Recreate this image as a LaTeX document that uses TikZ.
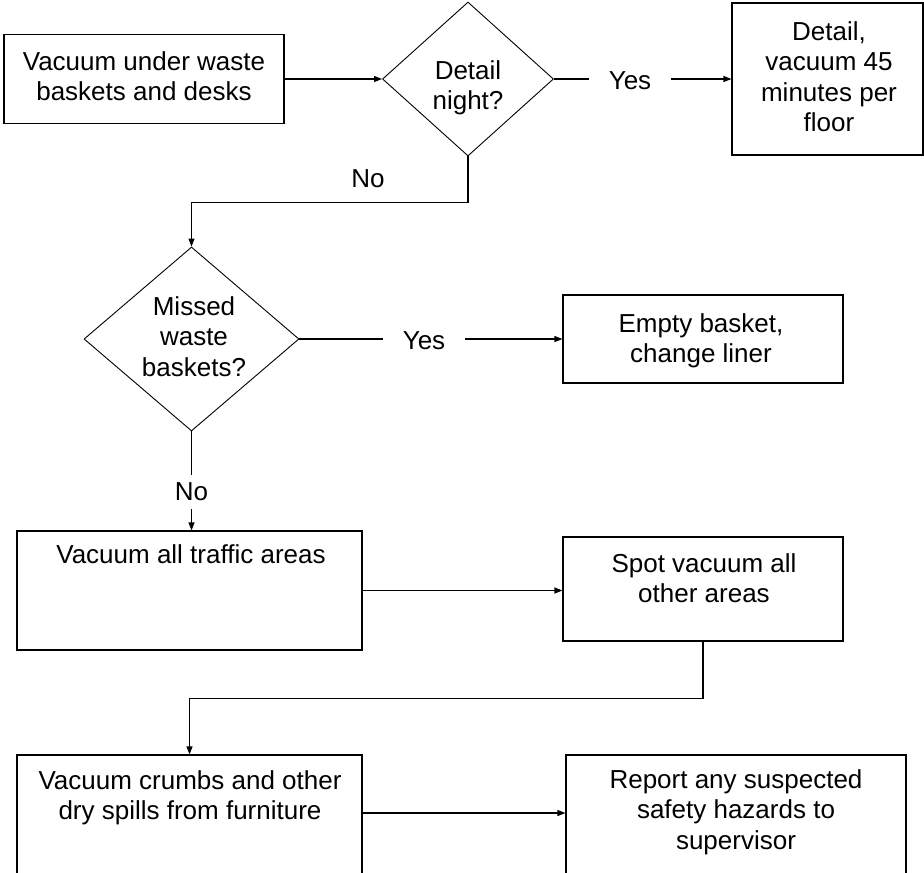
\documentclass[tikz,border=0pt]{standalone}
\usepackage{fontspec}
\setmainfont{Liberation Sans}
\usetikzlibrary{shapes.geometric,arrows.meta}
\tikzset{
  procbox/.style={draw=black, line width=1.1pt, rectangle, inner sep=0pt},
  decbox/.style={draw=black, line width=0.9pt, diamond, inner sep=0pt},
  lbl/.style={inner sep=0pt, align=center, font=\fontsize{26}{30.5}\selectfont},
  gaplbl/.style={lbl, fill=white, inner xsep=20pt, inner ysep=4pt},
  arr/.style={line width=1.1pt, -{Triangle[length=8pt,width=6pt]}},
  conn/.style={line width=1.1pt}
}
\begin{document}
\begin{tikzpicture}[x=1pt, y=-1pt]
\useasboundingbox (0,0) rectangle (924,873);
\clip (0,0) rectangle (924,873);

% process boxes
\node[procbox, minimum width=280pt, minimum height=89pt]  (b1) at (144,79) {};
\node[procbox, minimum width=191pt, minimum height=152pt] (b2) at (827.5,79) {};
\node[procbox, minimum width=280pt, minimum height=88pt]  (b3) at (703,339) {};
\node[procbox, minimum width=345pt, minimum height=119pt] (b4) at (189.5,590.5) {};
\node[procbox, minimum width=280pt, minimum height=104pt] (b5) at (703,589) {};
\node[procbox, minimum width=340pt, minimum height=145pt] (b6) at (736,827.5) {};
\node[procbox, minimum width=345pt, minimum height=145pt] (b7) at (189.5,827.5) {};

% decisions
\node[decbox, minimum width=171pt, minimum height=154pt] (d1) at (468,79) {};
\node[decbox, minimum width=215pt, minimum height=184pt] (d2) at (191.5,339) {};

% box texts
\node[lbl, anchor=north] (t1) at (144,51) {Vacuum under waste\\baskets and desks};
\node[lbl, anchor=north] (t2) at (829,21) {Detail,\\vacuum 45\\minutes per\\floor};
\node[lbl, anchor=north] (t3) at (701,313) {Empty basket,\\change liner};
\node[lbl, anchor=north] (t4) at (191,544) {Vacuum all traffic areas};
\node[lbl, anchor=north] (t5) at (704,553) {Spot vacuum all\\other areas};
\node[lbl, anchor=north] (t6) at (736,769) {Report any suspected\\safety hazards to\\supervisor};
\node[lbl, anchor=north] (t7) at (190,770) {Vacuum crumbs and other\\dry spills from furniture};
\node[lbl, anchor=north] (td1) at (468,60) {Detail\\night?};
\node[lbl, anchor=north] (td2) at (194,296) {Missed\\waste\\baskets?};

% connectors
\draw[arr] (b1.east) -- (d1.west);
\draw[arr] (d1.east) -- (b2.west);
\node[gaplbl] (y1) at (630,81) {Yes};

\draw[arr] (d1.south) -- ++(0,46) -| (d2.north);
\node[lbl] (n1) at (368,179) {No};

\draw[arr] (d2.east) -- (b3.west);
\node[gaplbl] (y2) at (424,341) {Yes};

\draw[arr] (d2.south) -- (d2.south |- b4.north);
\node[gaplbl, inner xsep=4pt, inner ysep=8pt] (n2) at (191.5,492) {No};

\draw[arr] (b4.east) -- (b4.east -| b5.west);
\draw[arr] (b5.south) -- ++(0,57) -| (b7.north);
\draw[arr] ([yshift=14.5pt]b7.east) -- ([yshift=14.5pt]b6.west);
\end{tikzpicture}
\end{document}
